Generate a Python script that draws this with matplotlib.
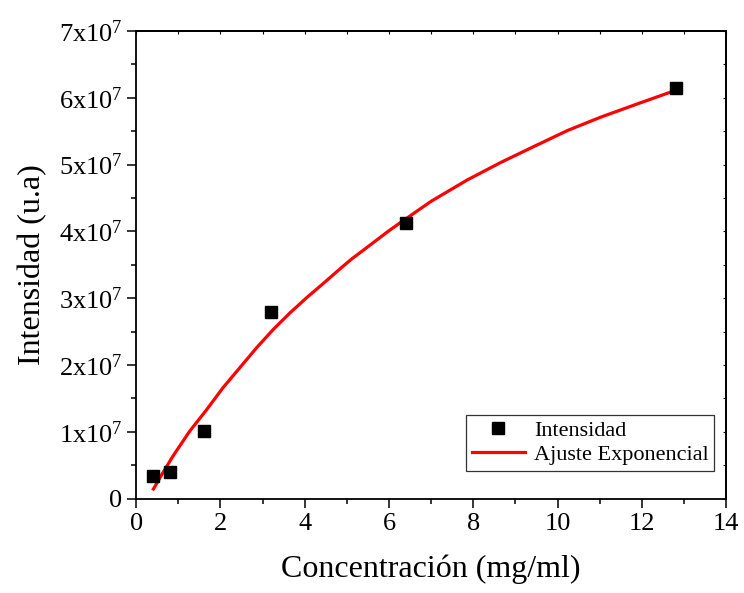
import numpy as np
import matplotlib.pyplot as plt
from matplotlib.ticker import MultipleLocator, FuncFormatter

plt.rcParams['font.family'] = ['Liberation Serif', 'DejaVu Serif']
plt.rcParams['mathtext.fontset'] = 'custom'
plt.rcParams['mathtext.rm'] = 'Liberation Serif'
plt.rcParams['mathtext.it'] = 'Liberation Serif:italic'

# measured points
conc = [0.4, 0.8, 1.6, 3.2, 6.4, 12.8]
intens = [3.45e6, 4.0e6, 1.02e7, 2.79e7, 4.13e7, 6.14e7]

# exponential fit curve (units of 1e7)
fit_x = [0.41, 0.63, 0.87, 1.27, 1.67, 2.06, 2.46, 2.86, 3.25, 3.65, 4.05,
         4.44, 4.84, 5.1, 5.5, 6.0, 6.27, 7.0, 7.86, 8.65, 9.44, 10.24,
         11.03, 11.82, 12.8]
fit_y = [0.145, 0.385, 0.634, 1.01, 1.33, 1.66, 1.96, 2.26, 2.53, 2.78, 3.01,
         3.22, 3.44, 3.58, 3.77, 4.01, 4.13, 4.45, 4.77, 5.03, 5.27, 5.51,
         5.71, 5.89, 6.11]


def sci_fmt(v, pos):
    if v == 0:
        return '0'
    return f'{int(round(v / 1e7))}x10$^{{7}}$'


fig = plt.figure(figsize=(7.44, 5.93), dpi=100)
ax = fig.add_axes([0.183, 0.159, 0.793, 0.789])

ax.plot(conc, intens, 's', color='black', markersize=8, label='Intensidad', zorder=3)
ax.plot(fit_x, np.array(fit_y) * 1e7, '-', color='#ff0000', linewidth=2.3,
        solid_joinstyle='round', label='Ajuste Exponencial', zorder=2)

ax.set_xlim(0, 14)
ax.set_ylim(0, 7e7)
ax.xaxis.set_major_locator(MultipleLocator(2))
ax.xaxis.set_minor_locator(MultipleLocator(1))
ax.yaxis.set_major_locator(MultipleLocator(1e7))
ax.yaxis.set_minor_locator(MultipleLocator(0.5e7))
ax.yaxis.set_major_formatter(FuncFormatter(sci_fmt))

ax.tick_params(which='major', direction='out', length=6.5, width=1.1, labelsize=19,
               top=False, right=False)
ax.tick_params(which='minor', direction='out', length=3.5, width=1.1,
               top=False, right=False)
# short inward ticks on top / right
sec_x = ax.secondary_xaxis('top')
sec_x.xaxis.set_major_locator(MultipleLocator(1))
sec_x.tick_params(direction='in', length=2, width=0.8, labeltop=False)
sec_y = ax.secondary_yaxis('right')
sec_y.yaxis.set_major_locator(MultipleLocator(0.5e7))
sec_y.tick_params(direction='in', length=2, width=0.8, labelright=False)

for s in ax.spines.values():
    s.set_linewidth(1.3)
sec_x.spines['top'].set_linewidth(1.3)
sec_y.spines['right'].set_linewidth(1.3)

ax.set_xlabel('Concentración (mg/ml)', fontsize=23, labelpad=14)
ax.set_ylabel('Intensidad (u.a)', fontsize=23, labelpad=8)

leg = ax.legend(loc='lower right', bbox_to_anchor=(0.98, 0.06), fontsize=16,
                frameon=True, fancybox=False, edgecolor='black', borderaxespad=0,
                handlelength=2.4, borderpad=0.25, labelspacing=0.15, handletextpad=0.4)
leg.get_frame().set_linewidth(0.9)

fig.savefig('out.png', dpi=100)
